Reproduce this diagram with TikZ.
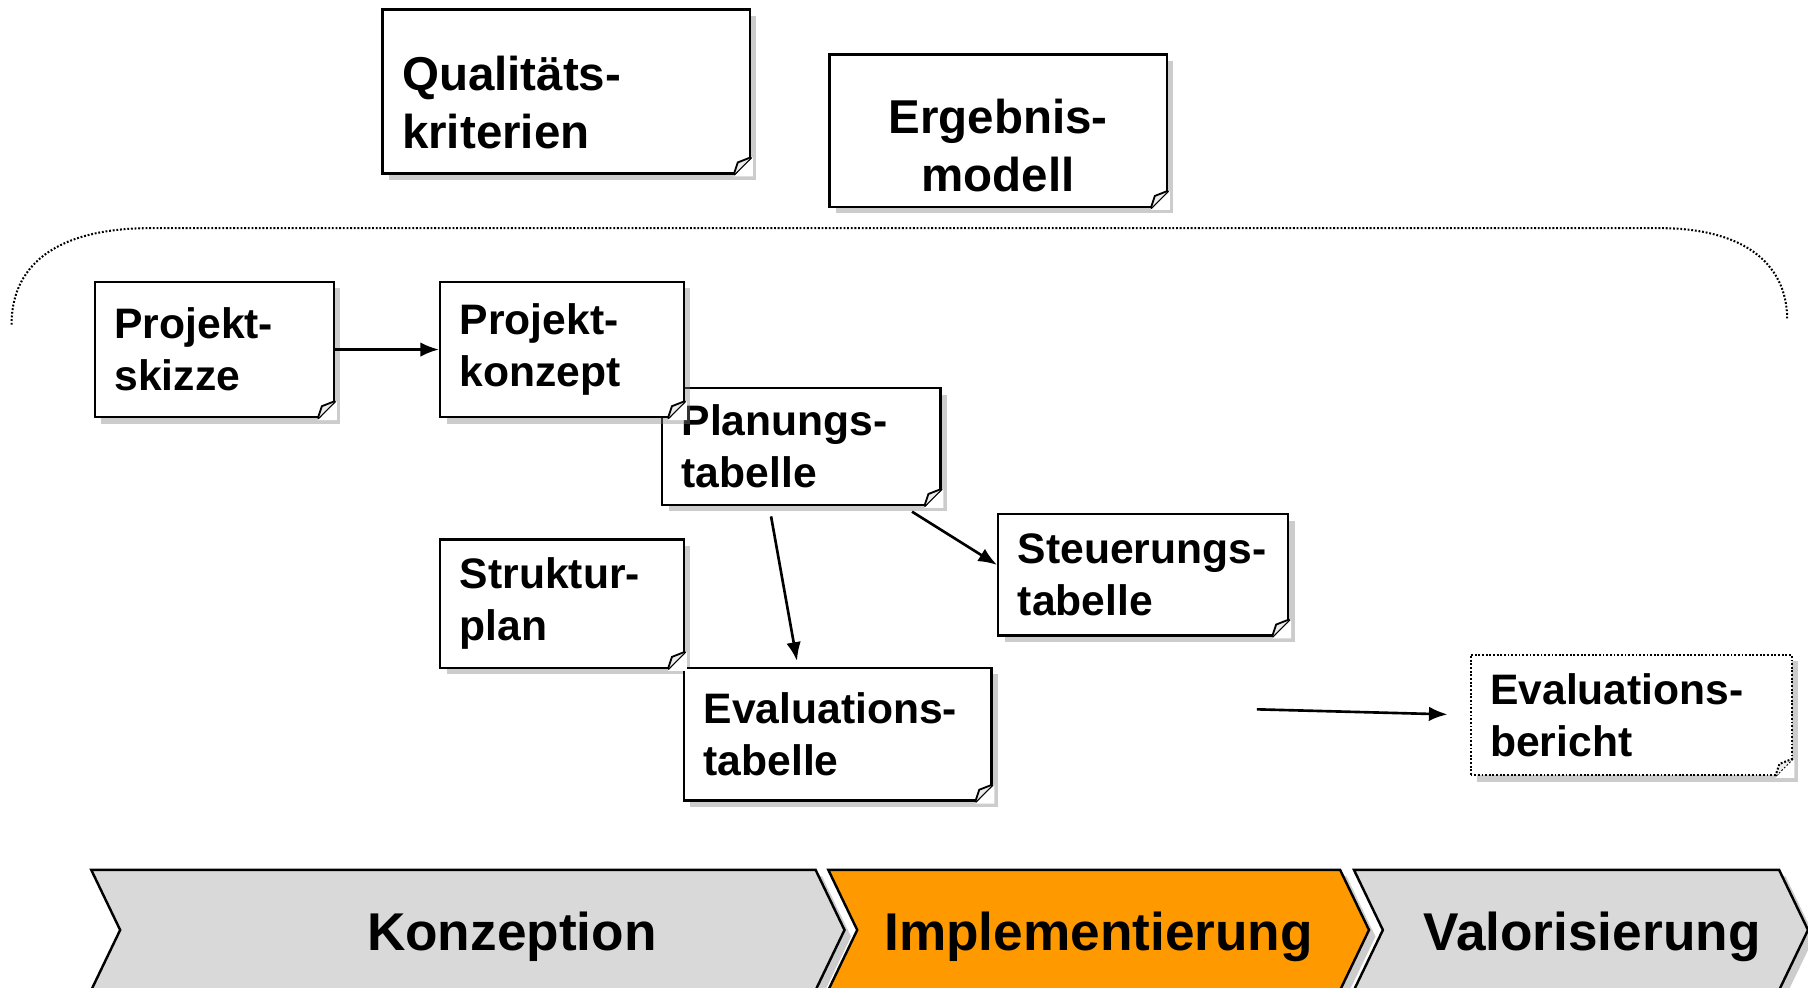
\documentclass[tikz,border=0pt]{standalone}
\usepackage{fontspec}
\setmainfont{Liberation Sans}
\usetikzlibrary{shadows,arrows.meta,calc}
\definecolor{phasegrau}{HTML}{D9D9D9}
\definecolor{phaseorange}{HTML}{FF9900}
\tikzset{
    zettel/.style={draw, fill=white, line width=0.6pt, anchor=north west, align=left,
        inner xsep=0.17cm, inner ysep=0.05cm, text width=#1,
        drop shadow={shadow xshift=1.6pt, shadow yshift=-1.6pt, opacity=0.4},
        font=\bfseries\fontsize{10.5}{12.8}\selectfont},
    gross/.style={font=\bfseries\fontsize{11.7}{14.2}\selectfont},
    pfeil/.style={-{Latex[length=4.6pt,width=3.6pt]}, line width=0.65pt},
    punkte/.style={line width=0.5pt, dash pattern=on 0.45pt off 0.45pt},
    phase/.style={draw, line width=0.6pt,
        drop shadow={shadow xshift=1.6pt, shadow yshift=-1.6pt, opacity=0.4}},
    phasetext/.style={anchor=base, font=\bfseries\fontsize{13.1}{15}\selectfont}
}

\begin{document}
\begin{tikzpicture}[x=1cm, y=-1cm]
    \useasboundingbox (0,0) rectangle (15.65,8.55);
    \draw[punkte] (0.10,2.81) .. controls (0.10,2.25) and (0.55,1.975) .. (1.30,1.975)
        -- (14.37,1.975) .. controls (15.05,1.975) and (15.47,2.25) .. (15.47,2.77);

    \node[zettel=2.84cm, gross, minimum height=1.42cm] (qual) at (3.30,0.07) {\rule{0pt}{1.2em}Qualitäts-\\kriterien};
    \node[zettel=2.58cm, gross, align=center, minimum height=1.32cm] (erg) at (7.17,0.46) {\rule{0pt}{1.36em}Ergebnis-\\modell};
    \node[zettel=1.73cm, minimum height=1.17cm] (skizze) at (0.81,2.43) {Projekt-\\skizze};
    \node[zettel=2.07cm, minimum height=1.01cm] (planung) at (5.72,3.35) {Planungs-\\tabelle};
    \node[zettel=1.77cm, minimum height=1.17cm] (konzept) at (3.80,2.43) {Projekt-\\konzept};
    \node[zettel=1.77cm, minimum height=1.11cm] (struktur) at (3.80,4.66) {Struktur-\\plan};
    \node[zettel=2.17cm, minimum height=1.05cm] (steuerung) at (8.63,4.44) {Steuerungs-\\tabelle};
    \node[zettel=2.32cm, minimum height=1.15cm] (evaltab) at (5.91,5.77) {Evaluations-\\tabelle};
    \node[zettel=2.44cm, minimum height=1.04cm, punkte] (bericht) at (12.72,5.66) {Evaluations-\\bericht};

    \foreach \n/\s in {qual/solid, erg/solid, skizze/solid, planung/solid, konzept/solid,
        struktur/solid, steuerung/solid, evaltab/solid, bericht/punkte}{
        \fill[white] ($(\n.south east)+(0.015,0.015)$) -- ($(\n.south east)+(0.015,-0.15)$)
            -- ($(\n.south east)+(-0.15,0.015)$) -- cycle;
        \draw[line width=0.6pt, \s] ($(\n.south east)+(0,-0.15)$) -- ($(\n.south east)+(-0.15,0)$);
        \filldraw[line width=0.45pt, fill=gray!15, \s] ($(\n.south east)+(0,-0.15)$)
            -- ($(\n.south east)+(-0.115,-0.105)$) -- ($(\n.south east)+(-0.15,0)$);
    }

    \draw[pfeil] (skizze.east) -- (konzept.west);
    \draw[pfeil, shorten <=0.09cm, shorten >=0.05cm] ($(planung.south west)!0.386!(planung.south east)$)
        -- ($(evaltab.north west)!0.372!(evaltab.north east)$);
    \draw[pfeil, shorten <=0.09cm] ($(planung.south west)!0.863!(planung.south east)$)
        -- ($(steuerung.north west)!0.42!(steuerung.south west)$);
    \coordinate (zulauf) at (10.88,6.14);
    \draw[pfeil, shorten >=0.19cm] (zulauf) -- (bericht.west);

    \foreach \l/\r/\f in {0.79/7.06/phasegrau, 7.17/11.60/phaseorange, 11.72/15.40/phasegrau}{
        \draw[phase, fill=\f] (\l,7.53) -- (\r,7.53) -- (\r+0.25,8.05) -- (\r,8.57)
            -- (\l,8.57) -- (\l+0.25,8.05) -- cycle;
    }
    \node[phasetext] (konzeption) at (4.43,8.225) {Konzeption};
    \node[phasetext] (implementierung) at (9.51,8.225) {Implementierung};
    \node[phasetext] (valorisierung) at (13.78,8.225) {Valorisierung};
\end{tikzpicture}
\end{document}
